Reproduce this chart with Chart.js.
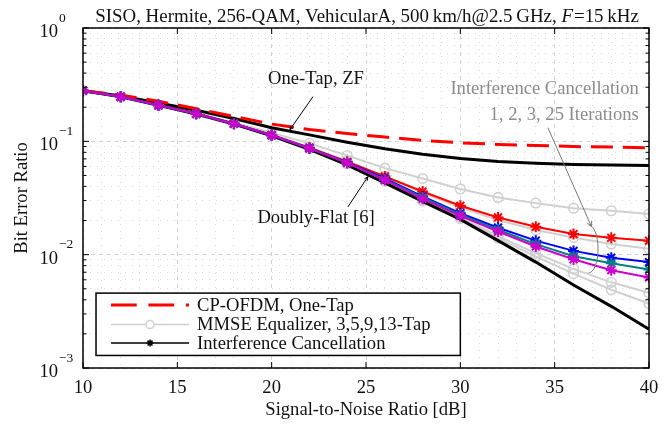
<!DOCTYPE html>
<html><head><meta charset="utf-8">
<script src="https://cdn.jsdelivr.net/npm/chart.js@4"></script>
<style>html,body{margin:0;padding:0;background:#fff}#wrap{width:672px;height:426px}</style>
</head><body><div id="wrap"><canvas id="c" width="672" height="426"></canvas></div>
<script>
// ---------- data ----------
const snr = [10,12,14,16,18,20,22,24,26,28,30,32,34,36,38,40];
const cpOfdmOneTap = [0.280,0.256,0.226,0.194,0.166,0.142,0.127,0.117,0.109,0.102,0.097,0.094,0.092,0.090,0.089,0.0875];
const oneTapZF     = [0.280,0.251,0.218,0.188,0.159,0.132,0.114,0.098,0.086,0.077,0.0705,0.0665,0.064,0.0625,0.0618,0.0613];
const doublyFlat   = [0.280,0.247,0.208,0.174,0.142,0.112,0.085,0.062,0.043,0.0295,0.0205,0.0133,0.0086,0.0054,0.0035,0.0022];
const mmse3  = [0.280,0.248,0.210,0.178,0.147,0.119,0.096,0.075,0.058,0.047,0.038,0.032,0.0285,0.0257,0.0244,0.0229];
const mmse5  = [0.280,0.247,0.208,0.176,0.144,0.115,0.089,0.067,0.049,0.035,0.026,0.0202,0.0165,0.0142,0.0124,0.0113];
const mmse9  = [0.280,0.247,0.208,0.175,0.143,0.113,0.0865,0.064,0.045,0.0305,0.0215,0.0146,0.0103,0.0075,0.0057,0.0046];
const mmse13 = [0.280,0.247,0.208,0.175,0.143,0.113,0.0862,0.0635,0.0445,0.0298,0.0208,0.0140,0.0096,0.0068,0.0049,0.0037];
const ic1  = [0.280,0.248,0.209,0.176,0.144,0.114,0.088,0.066,0.049,0.0361,0.0270,0.0213,0.0176,0.0152,0.0141,0.0133];
const ic2  = [0.280,0.247,0.208,0.175,0.143,0.113,0.087,0.065,0.047,0.0326,0.0232,0.0173,0.0133,0.0108,0.0094,0.0086];
const ic3  = [0.280,0.247,0.208,0.175,0.143,0.113,0.0868,0.0646,0.046,0.0320,0.0225,0.0166,0.0124,0.0097,0.0084,0.0074];
const ic25 = [0.280,0.247,0.208,0.175,0.143,0.113,0.0867,0.0645,0.0455,0.0311,0.0220,0.0160,0.0118,0.0091,0.0073,0.0063];
const xTickLabels = [10,15,20,25,30,35,40];
const yDecades = [0.001,0.01,0.1,1];
const yMinorMult = [2,3,4,5,6,7,8,9];
const legendLabels = ['CP-OFDM, One-Tap','MMSE Equalizer, 3,5,9,13-Tap','Interference Cancellation'];
const titleText = ['SISO, Hermite, 256-QAM, VehicularA, 500\u2009km/h@2.5\u2009GHz, ', 'F', '=15\u2009kHz'];
const xTitle = 'Signal-to-Noise Ratio [dB]';
const yTitle = 'Bit Error Ratio';
const noteOneTap = 'One-Tap, ZF';
const noteDoubly = 'Doubly-Flat [6]';
const noteIC = ['Interference Cancellation','1, 2, 3, 25 Iterations'];

// ---------- helpers ----------
const FF = '"Liberation Serif","Times New Roman",serif';
const F = (sz, st='') => `${st} ${sz}px ${FF}`.trim();
const FS = 18.6;
const pts = arr => snr.map((s,i)=>({x:s,y:arr[i]}));
const yAllTicks = [];
yDecades.forEach(d => { yAllTicks.push(d); if (d < 1) yMinorMult.forEach(m => yAllTicks.push(+(d*m).toPrecision(3))); });
yAllTicks.sort((a,b)=>a-b);
const isDecade = v => yDecades.some(d => Math.abs(d - v) < d*1e-6);

const GRAY = '#d0d0d0';
function grayDs(arr){ return {data:pts(arr), borderColor:GRAY, borderWidth:2, pointStyle:'circle', pointRadius:4.8,
  pointBorderColor:GRAY, pointBackgroundColor:'rgba(255,255,255,0)', pointBorderWidth:1.6, order:10}; }
function icDs(arr,col,ord){ return {data:pts(arr), borderColor:col, borderWidth:2, pointStyle:'star', pointRadius:5.5,
  pointBorderColor:col, pointBackgroundColor:col, pointBorderWidth:2, order:ord}; }

const overlay = {
  id:'overlay',
  afterDraw(chart){
    const {ctx, chartArea:a, scales:{x,y}} = chart;
    const X = v => x.getPixelForValue(v), Y = v => y.getPixelForValue(v);
    ctx.save();
    // ---- legend box ----
    const lx0 = X(10.69), lx1 = X(30.0), ly0 = Y(0.00458), ly1 = Y(0.00129);
    ctx.fillStyle = '#fff'; ctx.fillRect(lx0, ly0, lx1-lx0, ly1-ly0);
    ctx.strokeStyle = '#000'; ctx.lineWidth = 1.5; ctx.setLineDash([]);
    ctx.strokeRect(lx0, ly0, lx1-lx0, ly1-ly0);
    const sx0 = lx0 + 15, sx1 = lx0 + 93, tx = lx0 + 101;
    const rows = [ly0 + 12, ly0 + 31.5, ly0 + 50];
    // row 1 red dashed
    ctx.strokeStyle = '#ff0000'; ctx.lineWidth = 3; ctx.setLineDash([25.7,11.7]);
    ctx.beginPath(); ctx.moveTo(sx0, rows[0]); ctx.lineTo(sx1, rows[0]); ctx.stroke();
    ctx.setLineDash([]);
    // row 2 gray circle
    ctx.strokeStyle = GRAY; ctx.lineWidth = 1.5;
    ctx.beginPath(); ctx.moveTo(sx0, rows[1]); ctx.lineTo(sx1, rows[1]); ctx.stroke();
    ctx.fillStyle='#fff'; ctx.beginPath(); ctx.arc((sx0+sx1)/2, rows[1], 4, 0, Math.PI*2); ctx.fill(); ctx.stroke();
    // row 3 black star
    ctx.strokeStyle = '#000'; ctx.lineWidth = 1.5;
    ctx.beginPath(); ctx.moveTo(sx0, rows[2]); ctx.lineTo(sx1, rows[2]); ctx.stroke();
    const cx = (sx0+sx1)/2, r = 3.5;
    ctx.beginPath();
    for (let k=0;k<4;k++){ const ang = k*Math.PI/4; ctx.moveTo(cx-r*Math.cos(ang), rows[2]-r*Math.sin(ang)); ctx.lineTo(cx+r*Math.cos(ang), rows[2]+r*Math.sin(ang)); }
    ctx.stroke();
    ctx.fillStyle = '#111'; ctx.font = F(FS); ctx.textAlign='left'; ctx.textBaseline='middle';
    legendLabels.forEach((t,i)=>ctx.fillText(t, tx, rows[i]+1));

    // ---- frame ----
    ctx.strokeStyle = '#000'; ctx.lineWidth = 1.5; ctx.setLineDash([]);
    ctx.strokeRect(a.left, a.top, a.right-a.left, a.bottom-a.top);
    ctx.lineWidth = 1;
    ctx.beginPath();
    xTickLabels.forEach(v => { const px = X(v); ctx.moveTo(px, a.bottom); ctx.lineTo(px, a.bottom-6); ctx.moveTo(px, a.top); ctx.lineTo(px, a.top+6); });
    yAllTicks.forEach(v => { const py = Y(v); const L = isDecade(v) ? 6 : 3.5;
      ctx.moveTo(a.left, py); ctx.lineTo(a.left+L, py); ctx.moveTo(a.right, py); ctx.lineTo(a.right-L, py); });
    ctx.stroke();

    // ---- y tick labels 10^n ----
    ctx.fillStyle = '#111';
    yDecades.forEach(d => {
      const e = Math.round(Math.log10(d)); const py = Y(d);
      ctx.font = F(FS); ctx.textAlign='right'; ctx.textBaseline='middle';
      ctx.fillText('10', a.left - 25, py + 4);
      ctx.font = F(13.5); ctx.textAlign='left';
      ctx.fillText(e===0 ? '0' : '\u2212' + Math.abs(e), a.left - 24, py - 10);
    });

    // ---- axis titles ----
    ctx.font = F(FS); ctx.textAlign='center'; ctx.textBaseline='middle';
    ctx.fillText(xTitle, (a.left+a.right)/2, 410);
    ctx.save(); ctx.translate(22, (a.top+a.bottom)/2); ctx.rotate(-Math.PI/2);
    ctx.fillText(yTitle, 0, 0); ctx.restore();

    // ---- title ----
    ctx.textBaseline = 'alphabetic'; ctx.textAlign = 'left';
    const fonts = [F(18.9), F(18.9,'italic'), F(18.9)];
    const widths = titleText.map((t,i)=>{ ctx.font = fonts[i]; return ctx.measureText(t).width; });
    const tot = widths.reduce((p,c)=>p+c,0) + 1;
    let tx0 = 367 - tot/2;
    titleText.forEach((t,i)=>{ ctx.font = fonts[i]; ctx.fillText(t, tx0, 22); tx0 += widths[i] + (i===1?1:0); });

    // ---- annotations ----
    ctx.font = F(FS); ctx.textAlign='center'; ctx.textBaseline='middle'; ctx.fillStyle='#111';
    ctx.fillText(noteOneTap, X(22.35), Y(0.352));
    ctx.fillText(noteDoubly, X(22.35), Y(0.0211));
    ctx.strokeStyle = '#000'; ctx.lineWidth = 1;
    const arrow = (x0,y0,x1,y1,h) => {
      ctx.beginPath(); ctx.moveTo(x0,y0); ctx.lineTo(x1,y1); ctx.stroke();
      const ang = Math.atan2(y1-y0, x1-x0);
      ctx.beginPath();
      ctx.moveTo(x1 - h*Math.cos(ang-0.45), y1 - h*Math.sin(ang-0.45)); ctx.lineTo(x1,y1);
      ctx.lineTo(x1 - h*Math.cos(ang+0.45), y1 - h*Math.sin(ang+0.45)); ctx.stroke();
    };
    arrow(X(22.19), Y(0.248), X(20.97), Y(0.127), 4);
    arrow(X(24.04), Y(0.0264), X(25.10), Y(0.0487), 4);
    ctx.fillStyle = '#8c8c8c'; ctx.textAlign='right';
    ctx.fillText(noteIC[0], X(39.46), Y(0.287));
    ctx.fillText(noteIC[1], X(39.46), Y(0.169));
    ctx.strokeStyle = '#7a7a7a';
    arrow(X(34.64), Y(0.132), X(36.95), Y(0.0177), 6);
    const ecx = X(36.8), ety = Y(0.0183), eby = Y(0.0069);
    ctx.beginPath(); ctx.ellipse(ecx, (ety+eby)/2, X(37.3)-X(36.8), (eby-ety)/2, 0, -Math.PI/2, Math.PI/2); ctx.stroke();
    ctx.restore();
  }
};

new Chart(document.getElementById('c'), {
  type:'line',
  data:{ datasets:[
    grayDs(mmse3), grayDs(mmse5), grayDs(mmse9), grayDs(mmse13),
    {data:pts(doublyFlat), borderColor:'#000', borderWidth:3, pointRadius:0, order:6},
    {data:pts(oneTapZF), borderColor:'#000', borderWidth:3, pointRadius:0, order:6},
    {data:pts(cpOfdmOneTap), borderColor:'#ff0000', borderWidth:3, borderDash:[22,10], pointRadius:0, order:5},
    icDs(ic1,'#ff0000',4), icDs(ic2,'#0000ff',3), icDs(ic3,'#008080',2), icDs(ic25,'#cc00cc',1)
  ]},
  options:{
    responsive:false, devicePixelRatio:1, animation:false, events:[],
    layout:{padding:{left:0,right:23,top:28,bottom:0}},
    plugins:{legend:{display:false}, tooltip:{enabled:false}},
    elements:{line:{tension:0, fill:false}},
    scales:{
      x:{ type:'linear', min:10, max:40,
        afterBuildTicks: s => { s.ticks = []; for (let v=10; v<=40; v++) s.ticks.push({value:v}); },
        afterFit: s => { s.height = 58; },
        ticks:{ autoSkip:false, maxRotation:0, padding:9, color:'#111', font:{family:FF, size:FS},
          callback: v => xTickLabels.includes(v) ? String(v) : '' },
        grid:{ drawTicks:false, lineWidth:1,
          color: c => (c.tick && c.tick.value % 5 === 0) ? '#d4d4d4' : '#dadada' },
        border:{ display:false, dash: c => (c.tick && c.tick.value % 5 === 0) ? [4,4] : [1,6] }
      },
      y:{ type:'logarithmic', min:0.001, max:1,
        afterBuildTicks: s => { s.ticks = yAllTicks.map(v=>({value:v})); },
        afterFit: s => { s.width = 83; },
        ticks:{ display:false },
        grid:{ drawTicks:false, lineWidth:1,
          color: c => (c.tick && isDecade(c.tick.value)) ? '#d4d4d4' : '#dadada' },
        border:{ display:false, dash: c => (c.tick && isDecade(c.tick.value)) ? [4,4] : [1,6] }
      }
    }
  },
  plugins:[overlay]
});
</script>
</body></html>
